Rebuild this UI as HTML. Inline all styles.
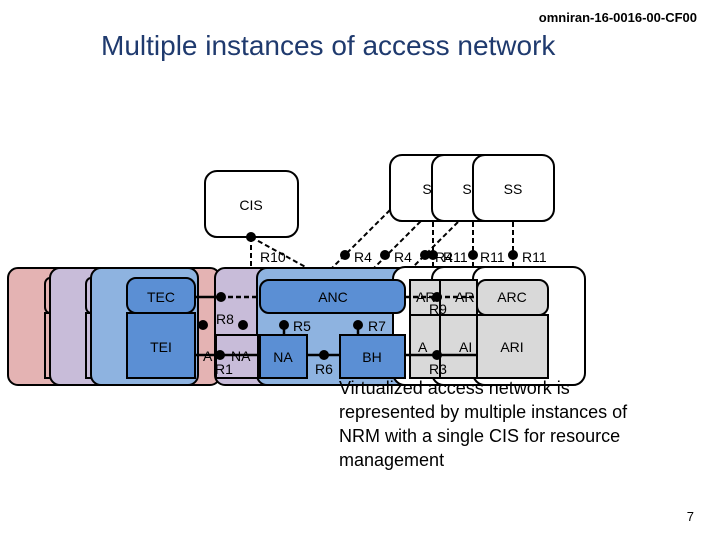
<!DOCTYPE html>
<html><head><meta charset="utf-8"><style>
body{margin:0;background:#fff}
svg text{font-family:"Liberation Sans",sans-serif}
</style></head><body>
<svg width="720" height="540" xmlns="http://www.w3.org/2000/svg">
<rect width="720" height="540" fill="#fff"/>
<text x="697" y="22" font-size="13" font-weight="bold" text-anchor="end">omniran-16-0016-00-CF00</text>
<text x="101" y="55" font-size="28" fill="#1f3a6e">Multiple instances of access network</text>

<g stroke="#000" stroke-width="2" stroke-dasharray="5,3" fill="none">
<line x1="251" y1="237" x2="251" y2="270"/>
<line x1="251" y1="237" x2="320" y2="275"/>
<line x1="390" y1="210" x2="330" y2="270"/>
<line x1="432" y1="210" x2="370" y2="272"/>
<line x1="458" y1="222" x2="405" y2="275"/>
<line x1="433" y1="222" x2="433" y2="270"/>
<line x1="473" y1="222" x2="473" y2="270"/>
<line x1="513" y1="222" x2="513" y2="270"/>
</g>

<g stroke="#000" stroke-width="2" fill="#fff">
<rect x="390" y="155" width="82" height="66" rx="12"/>
<rect x="432" y="155" width="82" height="66" rx="12"/>
<rect x="473" y="155" width="81" height="66" rx="12"/>
<rect x="205" y="171" width="93" height="66" rx="12"/>
</g>
<text x="427" y="194" font-size="14" text-anchor="middle">S</text>
<text x="467" y="194" font-size="14" text-anchor="middle">S</text>
<text x="513" y="194" font-size="14" text-anchor="middle">SS</text>
<text x="251" y="210" font-size="14" text-anchor="middle">CIS</text>

<g font-size="14">
<text x="260" y="262">R10</text>
<text x="354" y="262">R4</text>
<text x="394" y="262">R4</text>
<text x="435" y="262">R4</text>
<text x="443" y="262">R11</text>
<text x="480" y="262">R11</text>
<text x="522" y="262">R11</text>
</g>
<g fill="#000">
<circle cx="251" cy="237" r="5"/>
<circle cx="345" cy="255" r="5"/><circle cx="385" cy="255" r="5"/>
<circle cx="425" cy="255" r="5"/><circle cx="433" cy="255" r="5"/>
<circle cx="473" cy="255" r="5"/><circle cx="513" cy="255" r="5"/>
</g>

<g stroke="#000" stroke-width="2">
<rect x="8" y="268" width="212" height="117" rx="10" fill="#e4b3b3"/>
<rect x="45" y="278" width="10" height="35" rx="6" fill="#e4b3b3"/>
<rect x="45" y="313" width="10" height="65" fill="#e4b3b3"/>
<rect x="50" y="268" width="120" height="117" rx="10" fill="#c8bcd9"/>
<rect x="86" y="278" width="10" height="35" rx="6" fill="#c8bcd9"/>
<rect x="86" y="313" width="10" height="65" fill="#c8bcd9"/>
<rect x="215" y="268" width="200" height="117" rx="10" fill="#c8bcd9"/>
<rect x="91" y="268" width="107" height="117" rx="10" fill="#8eb3e0"/>
<rect x="257" y="268" width="153" height="117" rx="10" fill="#8eb3e0"/>
<rect x="393" y="267" width="110" height="118" rx="12" fill="#fff"/>
<rect x="432" y="267" width="110" height="118" rx="12" fill="#fff"/>
<rect x="473" y="267" width="112" height="118" rx="12" fill="#fff"/>
</g>
<g stroke="#000" stroke-width="2">
<rect x="127" y="278" width="68" height="35" rx="9" fill="#5b8fd4"/>
<rect x="127" y="313" width="68" height="65" fill="#5b8fd4"/>
<rect x="216" y="335" width="42" height="43" fill="#c8bcd9"/>
<rect x="260" y="280" width="145" height="33" rx="9" fill="#5b8fd4"/>
<rect x="260" y="335" width="47" height="43" fill="#5b8fd4"/>
<rect x="340" y="335" width="65" height="43" fill="#5b8fd4"/>
<rect x="410" y="280" width="30" height="35" fill="#d9d9d9"/>
<rect x="410" y="315" width="30" height="63" fill="#d9d9d9"/>
<rect x="440" y="280" width="37" height="35" fill="#d9d9d9"/>
<rect x="440" y="315" width="37" height="63" fill="#d9d9d9"/>
<rect x="477" y="280" width="71" height="35" rx="9" fill="#d9d9d9"/>
<rect x="477" y="315" width="71" height="63" fill="#d9d9d9"/>
</g>
<g stroke="#000" stroke-width="2.5">
<line x1="195" y1="297" x2="220" y2="297"/>
<line x1="220" y1="297" x2="260" y2="297" stroke-dasharray="5,3"/>
<line x1="195" y1="355" x2="260" y2="355"/>
<line x1="307" y1="355" x2="340" y2="355"/>
<line x1="405" y1="355" x2="477" y2="355"/>
<line x1="405" y1="297" x2="477" y2="297" stroke-dasharray="5,3"/>
<line x1="284" y1="325" x2="284" y2="335"/>
<line x1="358" y1="325" x2="358" y2="335"/>
</g>
<g fill="#000">
<circle cx="221" cy="297" r="5"/><circle cx="220" cy="355" r="5"/>
<circle cx="203" cy="325" r="5"/><circle cx="243" cy="325" r="5"/>
<circle cx="284" cy="325" r="5"/><circle cx="358" cy="325" r="5"/>
<circle cx="324" cy="355" r="5"/><circle cx="437" cy="297" r="5"/>
<circle cx="437" cy="355" r="5"/>
</g>
<g font-size="14" fill="#000">
<text x="161" y="302" text-anchor="middle">TEC</text>
<text x="161" y="352" text-anchor="middle">TEI</text>
<text x="333" y="302" text-anchor="middle">ANC</text>
<text x="283" y="362" text-anchor="middle">NA</text>
<text x="372" y="362" text-anchor="middle">BH</text>
<text x="512" y="302" text-anchor="middle">ARC</text>
<text x="512" y="352" text-anchor="middle">ARI</text>
<text x="216" y="324">R8</text>
<text x="293" y="331">R5</text>
<text x="368" y="331">R7</text>
<text x="215" y="374">R1</text>
<text x="315" y="374">R6</text>
<text x="429" y="314">R9</text>
<text x="429" y="374">R3</text>
<text x="231" y="361">NA</text>
<text x="203" y="361">A</text>
<text x="416" y="302">AR</text>
<text x="455" y="302">AR</text>
<text x="418" y="352">A</text>
<text x="459" y="352">AI</text>
</g>
<g font-size="18" fill="#000">
<text x="339" y="394">Virtualized access network is</text>
<text x="339" y="418">represented by multiple instances of</text>
<text x="339" y="442">NRM with a single CIS for resource</text>
<text x="339" y="466">management</text>
</g>
<text x="694" y="521" font-size="13" text-anchor="end">7</text>
</svg>
</body></html>
